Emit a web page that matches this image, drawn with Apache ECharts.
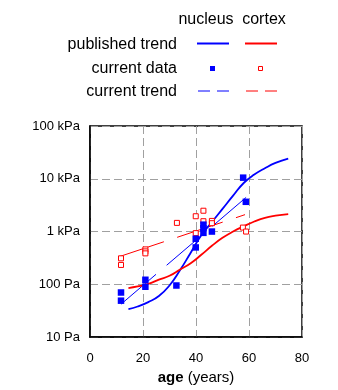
<!DOCTYPE html>
<html><head><meta charset="utf-8">
<script src="https://cdn.jsdelivr.net/npm/echarts@6/dist/echarts.min.js"></script>
<style>html,body{margin:0;padding:0;background:#fff}#c{width:338px;height:390px}</style>
</head><body><div id="c"></div>
<script>
// ---- data ----
const xTicks = [0, 20, 40, 60, 80];
const yTickValues = [10, 100, 1000, 10000, 100000];
const yTickLabels = ['10 Pa', '100 Pa', '1 kPa', '10 kPa', '100 kPa'];
const seriesNames = ['nucleus', 'cortex'];
const rowNames = ['published trend', 'current data', 'current trend'];

const nucleusAge = [11.7, 11.7, 20.9, 20.9, 32.6, 39.9, 39.9, 42.8, 42.8, 42.8, 46.0, 57.8, 58.8];
const nucleusStiff = [70, 49, 122, 90, 95, 730, 500, 1350, 1160, 945, 1000, 10500, 3660];
const cortexAge = [11.7, 11.7, 20.9, 20.9, 20.9, 32.8, 39.9, 39.9, 42.8, 42.8, 46.0, 46.0, 57.7, 58.9];
const cortexStiff = [311, 233, 459, 421, 386, 1460, 1950, 933, 2480, 1570, 1590, 1440, 1190, 1000];

const pubAge = [14.5, 18, 22, 26, 30, 34, 38, 42, 46, 50, 54, 58, 62, 66, 70, 74.8];
const pubNucleus = [34, 38, 46, 60, 95, 186, 398, 851, 1514, 2692, 4786, 8318, 12020, 15850, 19950, 23990];
const pubCortex = [85, 91, 102, 123, 145, 191, 251, 363, 537, 759, 1000, 1259, 1549, 1820, 1995, 2138];

const nucleusTrendAge = [11.7, 58.9];
const nucleusTrend = [42, 4430];
const cortexTrendAge = [10.7, 58.5];
const cortexTrend = [330, 2090];

// ---- build ----
const zip = (a, b) => a.map((v, i) => [v, b[i]]);
const BLUE = '#0000ff', RED = '#ff0000';
const FONT = '"Liberation Sans", Arial, Helvetica, sans-serif';
const chart = echarts.init(document.getElementById('c'), null, {renderer: 'canvas'});

const legendGraphics = [];
const colX = [206, 264];
seriesNames.forEach((n, i) => legendGraphics.push({
  type: 'text', x: colX[i], y: 20, style: {text: n, font: '16px ' + FONT, fill: '#000', textAlign: 'center', textVerticalAlign: 'middle'}
}));
const rowY = [45, 69, 92];
rowNames.forEach((n, i) => legendGraphics.push({
  type: 'text', x: 177, y: rowY[i], style: {text: n, font: '16px ' + FONT, fill: '#000', textAlign: 'right', textVerticalAlign: 'middle'}
}));
// published trend swatches
legendGraphics.push({type: 'line', shape: {x1: 197, y1: 43.5, x2: 229, y2: 43.5}, style: {stroke: BLUE, lineWidth: 2}});
legendGraphics.push({type: 'line', shape: {x1: 245, y1: 43.5, x2: 277, y2: 43.5}, style: {stroke: RED, lineWidth: 2}});
// current data swatches
legendGraphics.push({type: 'rect', shape: {x: 210, y: 66, width: 5, height: 5}, style: {fill: BLUE}});
legendGraphics.push({type: 'rect', shape: {x: 258.5, y: 66.5, width: 4, height: 4}, style: {fill: '#fff', stroke: RED, lineWidth: 1}});
// current trend swatches
legendGraphics.push({type: 'line', shape: {x1: 198, y1: 91, x2: 230, y2: 91}, style: {stroke: BLUE, lineWidth: 1, lineDash: [12, 7]}});
legendGraphics.push({type: 'line', shape: {x1: 246, y1: 91, x2: 278, y2: 91}, style: {stroke: RED, lineWidth: 1, lineDash: [12, 7]}});

const option = {
  animation: false,
  backgroundColor: '#fff',
  textStyle: {fontFamily: FONT},
  grid: {left: 90, right: 36, top: 126, bottom: 51, show: true, borderColor: '#000', borderWidth: 1.5, backgroundColor: 'transparent'},
  xAxis: {
    type: 'value', min: xTicks[0], max: xTicks[xTicks.length - 1], interval: 20,
    axisLine: {show: true, lineStyle: {color: '#000', width: 1.5}},
    axisTick: {show: false},
    axisLabel: {color: '#000', fontSize: 13, margin: 15, fontFamily: FONT},
    splitLine: {show: true, lineStyle: {color: '#a0a0a0', type: [8, 4], width: 1}},
    name: '{b|age} (years)', nameLocation: 'middle', nameGap: 30,
    nameTextStyle: {color: '#000', fontSize: 15, fontFamily: FONT, rich: {b: {fontWeight: 'bold', fontSize: 15, fontFamily: FONT, color: '#000'}}}
  },
  yAxis: {
    type: 'log', logBase: 10, min: yTickValues[0], max: yTickValues[yTickValues.length - 1],
    axisLine: {show: true, lineStyle: {color: '#000', width: 1.5}},
    axisTick: {show: false},
    minorTick: {show: false},
    axisLabel: {color: '#000', fontSize: 13, margin: 10, fontFamily: FONT,
      formatter: v => { const i = yTickValues.findIndex(t => Math.abs(t - v) / t < 1e-6); return i >= 0 ? yTickLabels[i] : ''; }},
    splitLine: {show: true, lineStyle: {color: '#a0a0a0', type: [8, 4], width: 1}}
  },
  graphic: legendGraphics,
  series: [
    {name: 'nucleus published', type: 'line', data: zip(pubAge, pubNucleus), smooth: 0.5, symbol: 'none', lineStyle: {color: BLUE, width: 1.8}, z: 3},
    {name: 'cortex published', type: 'line', data: zip(pubAge, pubCortex), smooth: 0.5, symbol: 'none', lineStyle: {color: RED, width: 1.8}, z: 3},
    {name: 'nucleus trend', type: 'line', data: zip(nucleusTrendAge, nucleusTrend), symbol: 'none', lineStyle: {color: BLUE, width: 1, type: [46, 14]}, z: 2},
    {name: 'cortex trend', type: 'line', data: zip(cortexTrendAge, cortexTrend), symbol: 'none', lineStyle: {color: RED, width: 1, type: [48, 14]}, z: 2},
    {name: 'cortex data', type: 'scatter', data: zip(cortexAge, cortexStiff), symbol: 'rect', symbolSize: 5,
      itemStyle: {color: '#fff', borderColor: RED, borderWidth: 1, opacity: 1}, z: 4},
    {name: 'nucleus data', type: 'scatter', data: zip(nucleusAge, nucleusStiff), symbol: 'rect', symbolSize: 6.5,
      itemStyle: {color: BLUE, opacity: 1}, z: 5}
  ]
};
chart.setOption(option);
</script></body></html>
